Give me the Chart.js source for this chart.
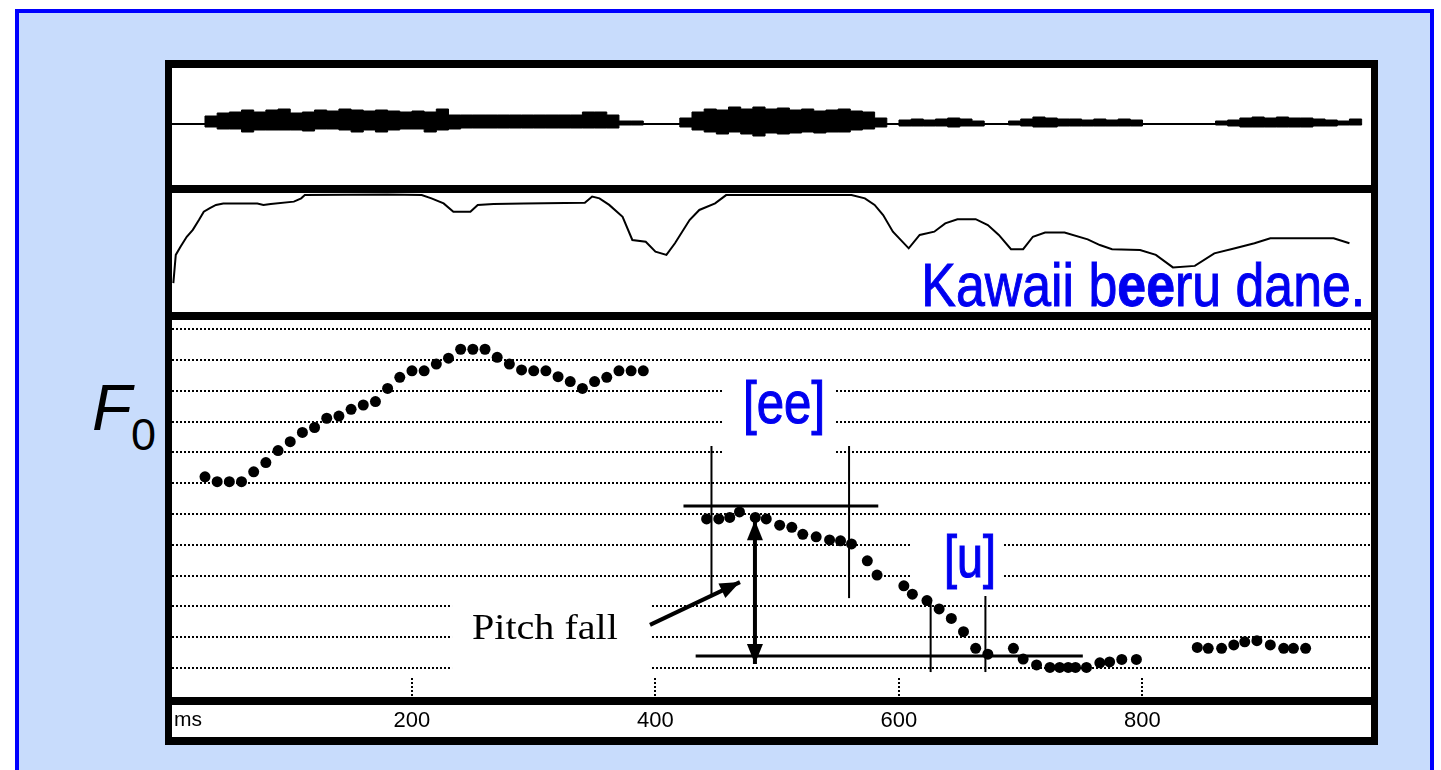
<!DOCTYPE html>
<html>
<head>
<meta charset="utf-8">
<script src="https://cdn.jsdelivr.net/npm/chart.js@4.4.0/dist/chart.umd.min.js"></script>
<style>
  html, body { margin: 0; padding: 0; background: #fff; width: 1441px; height: 770px; overflow: hidden; }
  #frame { position: absolute; left: 15px; top: 9px; width: 1411px; height: 800px; border: 4px solid #0000ff; background: #c8dcfc; }
  #box { position: absolute; left: 165px; top: 60px; width: 1213px; height: 685px; background: #000; }
  .panel { position: absolute; left: 172px; width: 1199px; background: #fff; }
  .panel canvas { display: block; }
  #bar { position: absolute; left: 172px; top: 697px; width: 1199px; height: 8px; background: #000; z-index: 2; }
  #title { position: absolute; right: 76px; top: 255px; font: 61px/61px 'Liberation Sans', Arial, sans-serif; color: #0000f0; white-space: nowrap; transform: scaleX(0.85); transform-origin: right center; z-index: 3; -webkit-text-stroke: 1px #0000f0; }
  #title b { font-weight: bold; }
  .f0 { position: absolute; font-family: 'Liberation Sans', Arial, sans-serif; color: #000; white-space: nowrap; }
  #f0F { left: 92px; top: 375px; font-size: 65px; line-height: 65px; font-style: italic; }
  #f0Sub { left: 131px; top: 412px; font-size: 45px; line-height: 45px; }
</style>
</head>
<body>
<div id="frame"></div>
<div id="box"></div>
<div class="panel" style="top:68px;height:117px"><canvas id="waveChart" width="1199" height="117"></canvas></div>
<div class="panel" style="top:193px;height:119px"><canvas id="intChart" width="1199" height="119"></canvas></div>
<div class="panel" style="top:320px;height:417px"><canvas id="f0Chart" width="1199" height="417"></canvas></div>
<div id="bar"></div>
<div id="title">Kawaii b<b>ee</b>ru dane.</div>
<span class="f0" id="f0F">F</span><span class="f0" id="f0Sub">0</span>
<script>
// time axis (ms) shared by the three panels
const X_MIN = 2.9;
const X_MAX = 987.7;
const timeTicks = [200, 400, 600, 800];

// waveform envelope, every 10 ms
const waveTimes = [];
for (let t = 0; t <= 980; t += 10) waveTimes.push(t);
const waveTop = [
  0, 0, 0, 8, 11, 12, 14, 12, 14, 15,
  11, 12, 14, 13, 15, 14, 13, 14, 13, 12,
  13, 12, 15, 9, 9, 9, 9, 9, 9, 9,
  9, 9, 9, 9, 12, 12, 9, 3, 3, 0,
  0, 0, 6, 12, 15, 14, 17, 15, 17, 15,
  16, 14, 15, 13, 14, 15, 13, 12, 6, 0,
  4, 5, 4, 5, 6, 5, 3, 0, 0, 3,
  5, 7, 6, 5, 5, 4, 5, 4, 5, 4,
  0, 0, 0, 0, 0, 0, 3, 4, 6, 7,
  6, 7, 6, 6, 5, 4, 3, 5, 0
];
const waveBottom = [
  0, 0, 0, -3, -5, -5, -8, -6, -6, -6,
  -6, -7, -5, -5, -6, -8, -6, -8, -6, -5,
  -5, -8, -6, -5, -4, -4, -4, -4, -4, -4,
  -4, -4, -4, -4, -4, -4, -4, -1, -1, 0,
  0, 0, -3, -6, -8, -10, -8, -10, -12, -9,
  -10, -9, -8, -9, -8, -8, -6, -5, -3, 0,
  -2, -2, -2, -2, -3, -2, -2, 0, 0, -1,
  -2, -3, -3, -2, -2, -2, -2, -2, -2, -2,
  0, 0, 0, 0, 0, 0, -1, -2, -3, -3,
  -3, -3, -3, -3, -2, -2, -1, -1, 0
];

// intensity contour (dB)
const intTimes = [4, 6, 10, 15, 20, 25, 29, 34, 39, 45, 73, 78, 84, 103, 109, 112, 180, 208, 216, 226,
  234, 248, 254, 267, 292, 342, 348, 354, 362, 373, 381, 392, 400, 409, 416, 428, 436, 449, 458, 561,
  572, 580, 587, 595, 608, 617, 629, 638, 648, 663, 673, 682, 692, 702, 710, 720, 736, 755, 765, 775,
  798, 811, 825, 843, 859, 876, 892, 905, 957, 970];
const intValues = [49.7, 59.2, 62.0, 65.3, 67.6, 70.9, 73.7, 74.9, 76.0, 76.5, 76.5, 76.0, 76.3, 77.1, 78.2, 79.3, 79.5, 79.3, 78.2, 76.5,
  73.7, 73.7, 76.0, 76.3, 76.5, 76.7, 78.8, 78.2, 76.0, 72.0, 64.2, 63.6, 60.3, 59.2, 63.1, 70.9, 74.3, 76.5, 79.3, 79.3,
  78.2, 76.0, 72.6, 67.0, 61.4, 65.9, 67.0, 69.8, 71.2, 71.2, 69.2, 65.9, 61.1, 61.1, 65.3, 66.7, 66.7, 64.4, 62.5, 61.1,
  60.8, 59.2, 55.0, 55.5, 59.7, 61.4, 63.1, 64.8, 64.8, 63.1];

// F0 track (Hz)
const f0Times = [30, 40, 50, 60, 70, 80, 90, 100, 110, 120, 130, 140, 150, 160, 170, 180, 190, 200, 210, 220,
  230, 240, 250, 260, 270, 280, 290, 300, 310, 320, 330, 340, 350, 360, 370, 380, 390,
  442, 452, 461, 469, 482, 491, 502, 512, 521, 532, 543, 552, 561, 574, 582, 604, 611, 623, 633, 643,
  653, 663, 673, 694, 702, 713, 724, 732, 739, 745, 754, 765, 773, 783, 795,
  845, 854, 865, 875, 884, 894, 905, 916, 924, 934];
const f0Values = [162.1, 160.5, 160.5, 160.5, 163.7, 166.7, 170.6, 173.5, 176.5, 178.1, 181.1, 181.8, 184.0, 185.4, 186.5, 190.8, 194.4, 196.5, 196.5, 198.7,
  200.6, 203.5, 203.5, 203.5, 200.9, 198.7, 196.8, 196.5, 196.5, 194.6, 193.0, 190.8, 193.0, 194.4, 196.5, 196.5, 196.5,
  148.4, 148.4, 148.9, 150.7, 148.9, 148.4, 146.4, 145.7, 143.4, 142.6, 141.6, 141.3, 140.3, 134.8, 130.2, 126.7, 124.0, 121.9, 119.2, 116.1,
  111.8, 106.4, 104.5, 106.4, 102.9, 101.0, 100.2, 100.2, 100.2, 100.2, 100.2, 101.7, 102.0, 102.8, 102.8,
  106.7, 106.4, 106.4, 107.5, 108.5, 108.9, 107.5, 106.4, 106.4, 106.4];
const F0_MIN = 90.6;
const F0_MAX = 213;
const f0Grid = [100, 110, 120, 130, 140, 150, 160, 170, 180, 190, 200, 210];

// annotations in data units (ms, Hz)
const segmentMarks = [[446, 123.4, 172.1], [559, 122.7, 172.1], [626, 98.7, 122.4], [671, 98.7, 123.4]];
const levelMarks = [[423, 583, 152.6], [433, 751, 103.9]];
const arrows = [[481.7, 148.0, 481.7, 101.3, true], [395.5, 114.0, 469.4, 127.9, false]];
const labelTexts = ["[ee]", "[u]", "Pitch fall"];
const labelTimes = [505.6, 658.3, 309.2];
const labelValues = [179.5, 129.4, 109.4];
const labelGaps = [[455.4, 548.2, 195.1, 167.5], [610.7, 685.4, 144.8, 125.3], [232.9, 395.5, 123.4, 97.4]];

Chart.defaults.font.family = "'Liberation Sans', Arial, sans-serif";
Chart.defaults.color = "#000";

function zip(xs, ys) {
  return xs.map((x, i) => ({ x: x, y: ys[i] }));
}

function baseOptions(yMin, yMax) {
  return {
    responsive: false,
    animation: false,
    events: [],
    layout: { padding: 0, autoPadding: false },
    plugins: { legend: { display: false }, tooltip: { enabled: false } },
    scales: {
      x: { type: "linear", min: X_MIN, max: X_MAX, display: false },
      y: { min: yMin, max: yMax, display: false },
    },
  };
}

// stretch text to a given width
function drawFitText(ctx, text, cx, baseline, width, font, color, stroke) {
  ctx.save();
  ctx.font = font;
  ctx.fillStyle = color;
  ctx.strokeStyle = color;
  ctx.lineWidth = stroke;
  ctx.textBaseline = "alphabetic";
  const w = ctx.measureText(text).width;
  ctx.translate(cx - width / 2, baseline);
  ctx.scale(width / w, 1);
  ctx.fillText(text, 0, 0);
  if (stroke) ctx.strokeText(text, 0, 0);
  ctx.restore();
}

function drawHead(ctx, fx, fy, tx, ty, len, half) {
  const a = Math.atan2(ty - fy, tx - fx);
  const bx = tx - len * Math.cos(a);
  const by = ty - len * Math.sin(a);
  ctx.beginPath();
  ctx.moveTo(tx, ty);
  ctx.lineTo(bx + half * Math.sin(a), by - half * Math.cos(a));
  ctx.lineTo(bx - half * Math.sin(a), by + half * Math.cos(a));
  ctx.closePath();
  ctx.fill();
}

// waveform
new Chart(document.getElementById("waveChart"), {
  type: "line",
  data: {
    datasets: [
      { data: zip(waveTimes, waveTop), stepped: true, fill: "+1", backgroundColor: "#000", borderColor: "#000", borderWidth: 1, pointRadius: 0 },
      { data: zip(waveTimes, waveBottom), stepped: true, borderColor: "#000", borderWidth: 1, pointRadius: 0 },
      { data: [{ x: waveTimes[0], y: 0 }, { x: waveTimes[waveTimes.length - 1], y: 0 }], borderColor: "#000", borderWidth: 2, pointRadius: 0 },
    ],
  },
  options: baseOptions(-61, 56),
});

// intensity
new Chart(document.getElementById("intChart"), {
  type: "line",
  data: {
    datasets: [
      { data: zip(intTimes, intValues), borderColor: "#000", borderWidth: 2, pointRadius: 0, tension: 0 },
    ],
  },
  options: baseOptions(40, 80),
});

// F0 panel overlay: label gaps, arrowheads, tick marks, labels
const f0Overlay = {
  id: "f0Overlay",
  beforeDatasetsDraw(chart) {
    const { ctx, scales: { x, y } } = chart;
    ctx.save();
    ctx.fillStyle = "#fff";
    for (const g of labelGaps) {
      const left = x.getPixelForValue(g[0]);
      const right = x.getPixelForValue(g[1]);
      const top = y.getPixelForValue(g[2]);
      const bottom = y.getPixelForValue(g[3]);
      ctx.fillRect(left, top, right - left, bottom - top);
    }
    ctx.restore();
  },
  afterDraw(chart) {
    const { ctx, chartArea, scales: { x, y } } = chart;
    ctx.save();
    ctx.fillStyle = "#000";
    for (const a of arrows) {
      const x1 = x.getPixelForValue(a[0]);
      const y1 = y.getPixelForValue(a[1]);
      const x2 = x.getPixelForValue(a[2]);
      const y2 = y.getPixelForValue(a[3]);
      drawHead(ctx, x1, y1, x2, y2, 20, 8);
      if (a[4]) drawHead(ctx, x2, y2, x1, y1, 20, 8);
    }
    // dotted tick marks
    ctx.strokeStyle = "#000";
    ctx.lineWidth = 2;
    ctx.setLineDash([2, 2]);
    for (const t of timeTicks) {
      const px = Math.round(x.getPixelForValue(t));
      ctx.beginPath();
      ctx.moveTo(px, chartArea.bottom - 19);
      ctx.lineTo(px, chartArea.bottom);
      ctx.stroke();
    }
    ctx.setLineDash([]);
    ctx.font = "21px 'Liberation Sans', Arial, sans-serif";
    ctx.textBaseline = "middle";
    ctx.textAlign = "left";
    ctx.fillText("ms", chartArea.left + 2, chartArea.bottom + 23);
    ctx.restore();

    const sans = "60px 'Liberation Sans', Arial, sans-serif";
    drawFitText(ctx, labelTexts[0], x.getPixelForValue(labelTimes[0]), y.getPixelForValue(labelValues[0]), 82, sans, "#0000f0", 1.2);
    drawFitText(ctx, labelTexts[1], x.getPixelForValue(labelTimes[1]), y.getPixelForValue(labelValues[1]), 52, sans, "#0000f0", 1.2);
    drawFitText(ctx, labelTexts[2], x.getPixelForValue(labelTimes[2]), y.getPixelForValue(labelValues[2]), 146, "36px 'Liberation Serif', 'Times New Roman', serif", "#000", 0);
  },
};

const f0Datasets = [
  { data: zip(f0Times, f0Values), showLine: false, pointRadius: 5.5, pointBackgroundColor: "#000", pointBorderWidth: 0 },
];
for (const m of segmentMarks) {
  f0Datasets.push({ data: [{ x: m[0], y: m[1] }, { x: m[0], y: m[2] }], borderColor: "#000", borderWidth: 2, pointRadius: 0 });
}
for (const m of levelMarks) {
  f0Datasets.push({ data: [{ x: m[0], y: m[2] }, { x: m[1], y: m[2] }], borderColor: "#000", borderWidth: 3, pointRadius: 0 });
}
for (const a of arrows) {
  f0Datasets.push({ data: [{ x: a[0], y: a[1] }, { x: a[2], y: a[3] }], borderColor: "#000", borderWidth: 4, pointRadius: 0 });
}

const f0Options = baseOptions(F0_MIN, F0_MAX);
f0Options.scales.x = {
  type: "linear",
  min: X_MIN,
  max: X_MAX,
  afterBuildTicks: (s) => { s.ticks = timeTicks.map((v) => ({ value: v })); },
  afterFit: (s) => { s.height = 40; },
  grid: { display: false, drawTicks: false },
  border: { display: false },
  ticks: { padding: 11, color: "#000", maxRotation: 0, font: { size: 22 } },
};
f0Options.scales.y = {
  min: F0_MIN,
  max: F0_MAX,
  afterBuildTicks: (s) => { s.ticks = f0Grid.map((v) => ({ value: v })); },
  afterFit: (s) => { s.width = 0; },
  ticks: { display: false },
  grid: { color: "#000", lineWidth: 2, drawTicks: false },
  border: { display: false, dash: [2, 2] },
};

new Chart(document.getElementById("f0Chart"), {
  type: "line",
  data: { datasets: f0Datasets },
  options: f0Options,
  plugins: [f0Overlay],
});
</script>
</body>
</html>
